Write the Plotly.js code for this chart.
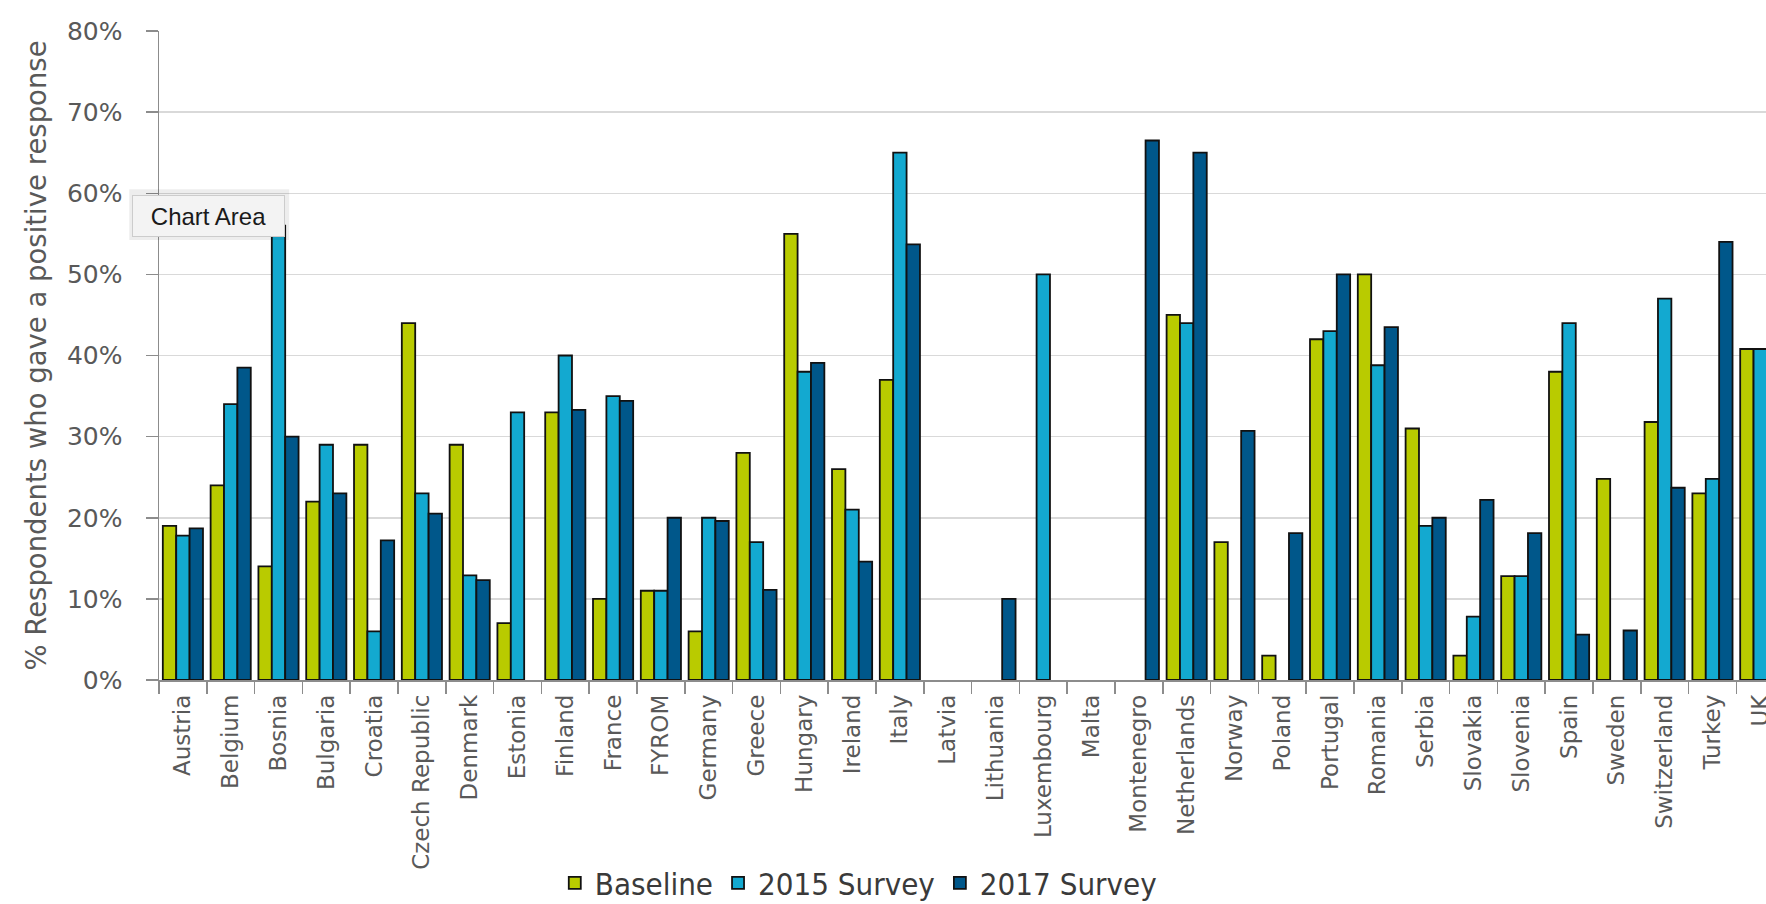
<!DOCTYPE html>
<html>
<head>
<meta charset="utf-8">
<script src="https://cdn.plot.ly/plotly-3.0.1.min.js"></script>
<style>
  html, body { margin: 0; padding: 0; background: #ffffff; }
  #chart { width: 1766px; height: 904px; }
</style>
</head>
<body>
<div id="chart"></div>
<script>
const categories = ["Austria", "Belgium", "Bosnia", "Bulgaria", "Croatia", "Czech Republic", "Denmark", "Estonia", "Finland", "France", "FYROM", "Germany", "Greece", "Hungary", "Ireland", "Italy", "Latvia", "Lithuania", "Luxembourg", "Malta", "Montenegro", "Netherlands", "Norway", "Poland", "Portugal", "Romania", "Serbia", "Slovakia", "Slovenia", "Spain", "Sweden", "Switzerland", "Turkey", "UK"];

const baseline = [19, 24, 14, 22, 29, 44, 29, 7, 33, 10, 11, 6, 28, 55, 26, 37, null, null, null, null, null, 45, 17, 3, 42, 50, 31, 3, 12.8, 38, 24.8, 31.8, 23, 40.8];
const survey2015 = [17.8, 34, 56, 29, 6, 23, 12.9, 33, 40, 35, 11, 20, 17, 38, 21, 65, null, null, 50, null, null, 44, null, null, 43, 38.8, 19, 7.8, 12.8, 44, null, 47, 24.8, 40.8];
const survey2017 = [18.7, 38.5, 30, 23, 17.2, 20.5, 12.3, null, 33.3, 34.4, 20, 19.6, 11.1, 39.1, 14.6, 53.7, null, 10, null, null, 66.5, 65, 30.7, 18.1, 50, 43.5, 20, 22.2, 18.1, 5.6, 6.1, 23.7, 54, 52.2];

const seriesNames = ["Baseline", "2015 Survey", "2017 Survey"];
const seriesColors = ["#B9CB00", "#13A9D0", "#00578A"];
const yTitle = "% Respondents who gave a positive response";

const seriesValues = [baseline, survey2015, survey2017];
const traces = seriesValues.map((vals, i) => ({
  type: "bar",
  name: seriesNames[i],
  x: categories,
  y: vals,
  marker: { color: seriesColors[i], line: { color: "#111111", width: 1.8 } },
  hoverinfo: "skip"
}));

const axisGray = "#8c8c8c";

const layout = {
  width: 1766,
  height: 904,
  margin: { l: 159, r: 0, t: 31, b: 224, pad: 0 },
  paper_bgcolor: "#ffffff",
  plot_bgcolor: "#ffffff",
  barmode: "group",
  bargap: 0.16,
  bargroupgap: 0,
  showlegend: true,
  xaxis: {
    type: "category",
    categoryorder: "array",
    categoryarray: categories,
    range: [-0.5, 33.12],
    tickson: "boundaries",
    ticks: "outside",
    ticklen: 12,
    tickwidth: 1.5,
    tickcolor: axisGray,
    showline: true,
    linecolor: axisGray,
    linewidth: 1.5,
    showgrid: false,
    zeroline: false,
    tickangle: -90,
    ticklabelstandoff: 4,
    tickfont: { family: "DejaVu Sans, sans-serif", size: 23, color: "#595959" },
    automargin: false,
    fixedrange: true
  },
  yaxis: {
    range: [0, 80],
    dtick: 10,
    tick0: 0,
    ticksuffix: "%",
    ticks: "outside",
    ticklen: 12,
    tickwidth: 1.5,
    tickcolor: axisGray,
    showline: true,
    linecolor: axisGray,
    linewidth: 1.5,
    showgrid: true,
    gridcolor: "#d9d9d9",
    gridwidth: 1.5,
    zeroline: false,
    ticklabelstandoff: 18,
    tickfont: { family: "DejaVu Sans, sans-serif", size: 25, color: "#595959" },
    automargin: false,
    fixedrange: true,
    title: {
      text: yTitle,
      font: { family: "DejaVu Sans, sans-serif", size: 27.5, color: "#595959" },
      standoff: 12
    }
  },
  legend: {
    orientation: "h",
    xref: "container",
    yref: "container",
    x: 0.486,
    xanchor: "center",
    y: 0.023,
    yanchor: "middle",
    traceorder: "normal",
    font: { family: "Liberation Sans Narrow, DejaVu Sans Condensed, sans-serif", size: 31, color: "#3a3a3a" },
    bgcolor: "rgba(0,0,0,0)"
  },
  shapes: [{
    type: "rect",
    xref: "paper",
    yref: "paper",
    x0: -0.0185, x1: 0.0810,
    y0: 0.6780, y1: 0.7560,
    line: { width: 0 },
    fillcolor: "rgba(0,0,0,0.07)",
    layer: "above"
  }],
  annotations: [{
    text: "Chart Area",
    xref: "paper",
    yref: "paper",
    x: 0.0308,
    y: 0.7149,
    xanchor: "center",
    yanchor: "middle",
    showarrow: false,
    width: 141,
    height: 30,
    bgcolor: "#f3f3f3",
    bordercolor: "#cccccc",
    borderwidth: 1,
    borderpad: 5,
    font: { family: "Liberation Sans, sans-serif", size: 24, color: "#1a1a1a" }
  }]
};

Plotly.newPlot("chart", traces, layout, { displayModeBar: false, staticPlot: true });
</script>
</body>
</html>
